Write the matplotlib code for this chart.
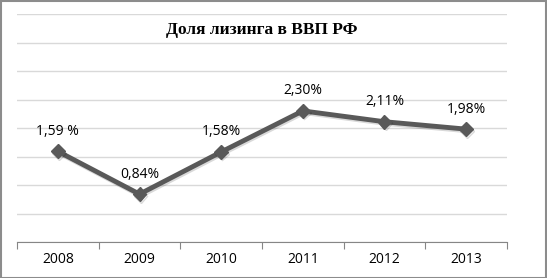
import matplotlib
matplotlib.use("Agg")
import matplotlib.pyplot as plt
from matplotlib.patches import Rectangle
import matplotlib.patheffects as pe

years = ["2008", "2009", "2010", "2011", "2012", "2013"]
share = [1.59, 0.84, 1.58, 2.30, 2.11, 1.98]
labels = ["1,59 %", "0,84%", "1,58%", "2,30%", "2,11%", "1,98%"]
title = "Доля лизинга в ВВП РФ"

W, H = 547, 278
fig = plt.figure(figsize=(W / 100, H / 100), dpi=100)
fig.patch.set_facecolor("white")
fig.patches.append(Rectangle((0.5 / W, 0.5 / H), 1 - 1.5 / W, 1 - 1.5 / H,
                             transform=fig.transFigure, fill=False,
                             edgecolor="#8c8c8c", linewidth=1.5))

ax = fig.add_axes([17 / W, (H - 242) / H, 490 / W, 228 / H])
x = list(range(len(years)))
ax.set_xlim(-0.5, len(years) - 0.5)
ax.set_ylim(0, 4)
ax.set_yticks([i * 0.5 for i in range(9)])
ax.yaxis.grid(True, color="#d9d9d9", linewidth=1)
ax.set_axisbelow(True)
for s in ["top", "right", "left"]:
    ax.spines[s].set_visible(False)
ax.spines["bottom"].set_color("#868686")
ax.tick_params(axis="y", left=False, labelleft=False)
ax.set_xticks([i - 0.5 for i in range(len(years) + 1)], minor=False)
ax.set_xticklabels([])
ax.tick_params(axis="x", which="major", length=5, color="#868686", direction="out")
ax.set_xticks(x, minor=True)
ax.set_xticklabels(years, minor=True, fontsize=10, family="Open Sans", color="black")
ax.tick_params(axis="x", which="minor", length=0, pad=7)

ax.plot(x, share, color="#595959", linewidth=3.5, marker="D", markersize=7,
        solid_joinstyle="miter",
        path_effects=[pe.SimpleLineShadow(offset=(0.8, -1.2), shadow_color="#000000", alpha=0.15), pe.Normal()])

for xi, yi, lab in zip(x, share, labels):
    ax.annotate(lab, (xi, yi), xytext=(0, 9), textcoords="offset points",
                ha="center", va="bottom", fontsize=10, family="Open Sans", color="black")

fig.text((17 + 507) / 2 / W, 1 - 30 / H, title, ha="center", va="center",
         fontsize=12.5, fontweight="bold", family="Liberation Serif")

fig.savefig("out.png", dpi=100)
